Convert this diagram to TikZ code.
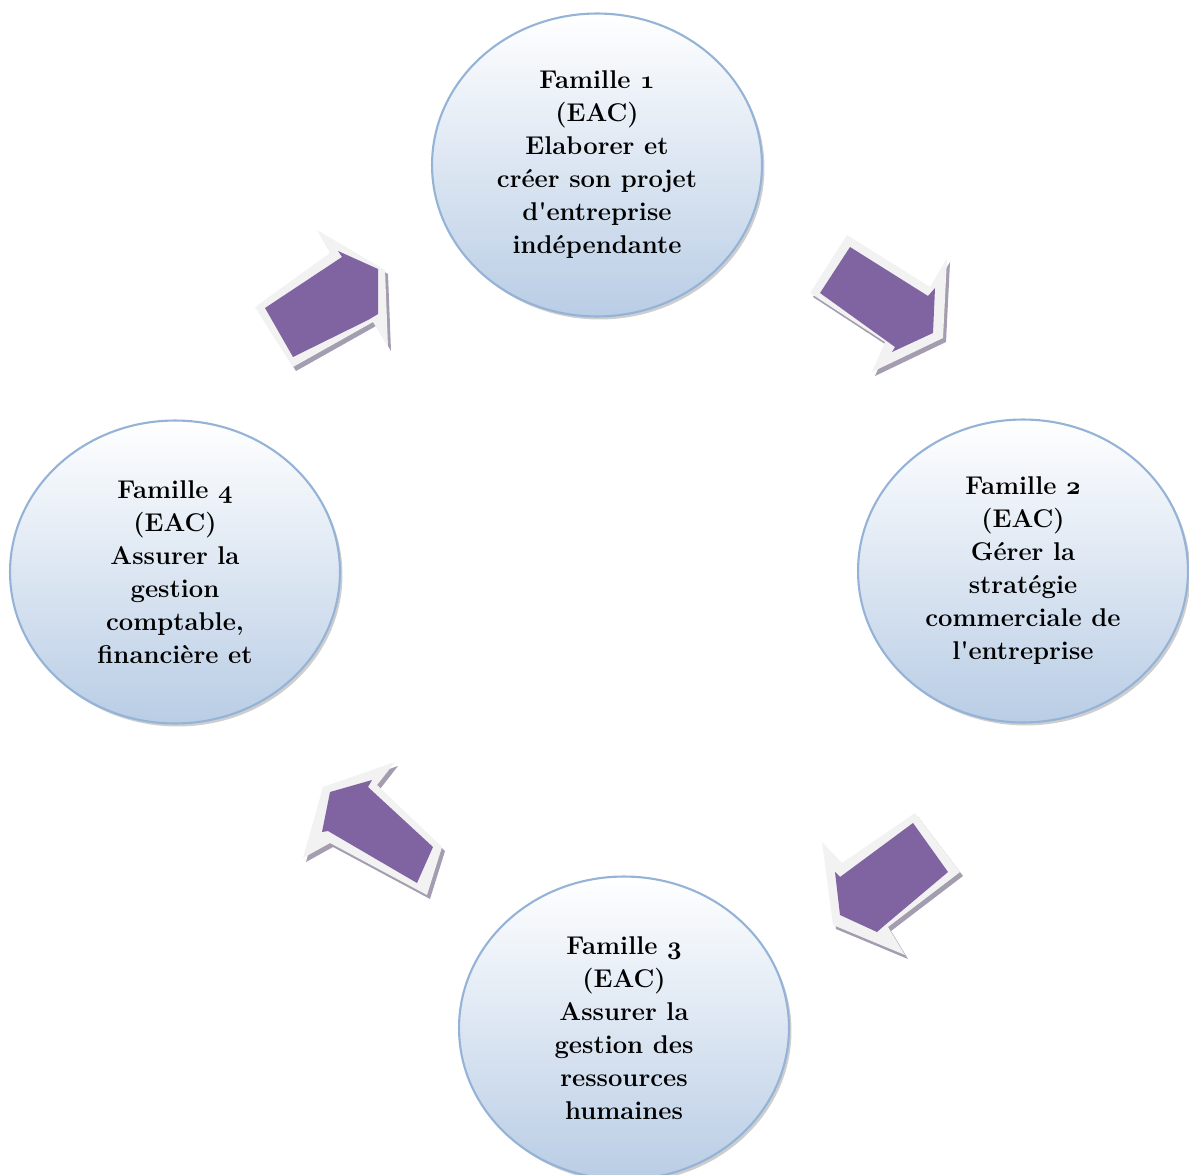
\documentclass[tikz,border=0pt]{standalone}
\usepackage{tikz}
\usetikzlibrary{shapes.geometric,shadows}
\definecolor{violetfleche}{HTML}{8064A2}
\definecolor{bordfleche}{HTML}{F2F2F2}
\definecolor{ombrefleche}{HTML}{A49CAF}
\definecolor{bordcercle}{HTML}{95B3D7}
\definecolor{fondcercle}{HTML}{B9CDE5}
\newcommand{\chiffre}[1]{\mbox{\boldmath$\mathnormal{#1}$}}

\begin{document}
\begin{tikzpicture}[x=0.02cm,y=-0.02cm,
    famille/.style={ellipse,draw=bordcercle,line width=1.2pt,top color=white,bottom color=fondcercle,
            minimum width=6.6cm,minimum height=6.06cm,inner sep=0pt,align=center,
            font=\fontsize{14.6}{18.8}\selectfont\bfseries,
            drop shadow={shadow xshift=0.05cm,shadow yshift=-0.06cm,opacity=0.35,fill=black!55}}]
    \useasboundingbox (0,0) rectangle (1189,1175);
    \foreach \n/\x/\y/\texte in{
            1/597/165/{Famille \chiffre{1}\\(EAC)\\Elaborer et\\cr\'eer son projet\\d\textquotesingle entreprise\\ind\'ependante},
            2/1023/571/{Famille \chiffre{2}\\(EAC)\\G\'erer la\\strat\'egie\\commerciale de\\l\textquotesingle entreprise},
            3/624/1028/{Famille \chiffre{3}\\(EAC)\\Assurer la\\gestion des\\ressources\\humaines},
            4/175/572/{Famille \chiffre{4}\\(EAC)\\Assurer la\\gestion\\comptable,\\financi\`ere et}}{
            \node[famille] (F\n) at (\x,\y) {\texte};
        }
    % fleche 4 -> 1
    \foreach \dx/\dy/\coul in{3/4/ombrefleche,0/0/bordfleche}{
            \fill[fill=\coul,shift={(\dx,\dy)}](255,307)--(330,253)--(317,230)--(385,270)--(388,347)--(373,322)--(293,367)--cycle;}
    \fill[violetfleche](265,308)--(342,257)--(338,251)--(378,269)--(378,314)--(368,320)--(293,357)--cycle;
    % fleche 1 -> 2
    \foreach \dx/\dy/\coul in{3/4/ombrefleche,0/0/bordfleche}{
            \fill[fill=\coul,shift={(\dx,\dy)}](847,235)--(930,287)--(947,258)--(943,338)--(872,372)--(885,342)--(810,293)--cycle;}
    \fill[violetfleche](850,247)--(928,296)--(935,288)--(933,333)--(892,352)--(895,347)--(820,293)--cycle;
    % fleche 2 -> 3
    \foreach \dx/\dy/\coul in{3/4/ombrefleche,0/0/bordfleche}{
            \fill[fill=\coul,shift={(\dx,\dy)}](915,813)--(960,872)--(888,927)--(905,955)--(833,925)--(822,842)--(842,863)--cycle;}
    \fill[violetfleche](913,823)--(948,872)--(885,925)--(877,932)--(840,915)--(835,872)--(840,877)--cycle;
    % fleche 3 -> 4
    \foreach \dx/\dy/\coul in{3/4/ombrefleche,0/0/bordfleche}{
            \fill[fill=\coul,shift={(\dx,\dy)}](323,787)--(395,762)--(377,785)--(442,847)--(427,895)--(330,843)--(303,858)--cycle;}
    \fill[violetfleche](330,792)--(372,780)--(368,787)--(433,847)--(417,883)--(328,831)--(322,832)--cycle;
\end{tikzpicture}
\end{document}
